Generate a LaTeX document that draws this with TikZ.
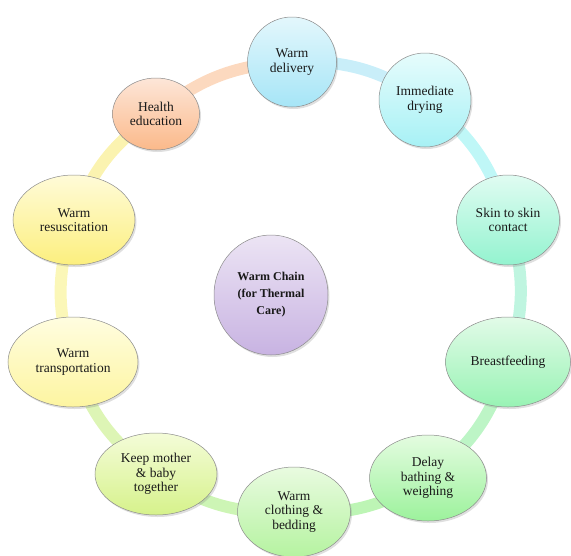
\documentclass[tikz,border=0pt]{standalone}
\usepackage{fontspec}
\setmainfont{Liberation Serif}
\usetikzlibrary{shapes.geometric,shadows,backgrounds}
\definecolor{dT}{HTML}{E3F7FC}\definecolor{dB}{HTML}{A6E5F7}
\definecolor{yT}{HTML}{E6FCFC}\definecolor{yB}{HTML}{A7F1F5}
\definecolor{sT}{HTML}{E0FCF2}\definecolor{sB}{HTML}{93F3CF}
\definecolor{bT}{HTML}{E2FBE8}\definecolor{bB}{HTML}{98F3B4}
\definecolor{lT}{HTML}{E4FCE0}\definecolor{lB}{HTML}{9CF29C}
\definecolor{cT}{HTML}{E9FBE0}\definecolor{cB}{HTML}{B5F3A0}
\definecolor{kT}{HTML}{F4FCD8}\definecolor{kB}{HTML}{D6F28B}
\definecolor{tT}{HTML}{FFFDE0}\definecolor{tB}{HTML}{FDF5A0}
\definecolor{rT}{HTML}{FFFBD8}\definecolor{rB}{HTML}{FCEF7E}
\definecolor{hT}{HTML}{FDE6D8}\definecolor{hB}{HTML}{FBB98A}
\definecolor{mT}{HTML}{ECE4F4}\definecolor{mB}{HTML}{C8B3E2}
\definecolor{r1}{HTML}{C9EEF9}
\definecolor{r2}{HTML}{BFF7F7}
\definecolor{r3}{HTML}{BFF5E0}
\definecolor{r4}{HTML}{BDF5C6}
\definecolor{r5}{HTML}{BDF5B5}
\definecolor{r6}{HTML}{CDF5B5}
\definecolor{r7}{HTML}{DDF5B5}
\definecolor{r8}{HTML}{FBF7B8}
\definecolor{r9}{HTML}{FBF3B0}
\definecolor{r10}{HTML}{FCD9BF}
\begin{document}
\begin{tikzpicture}[x=1pt,y=-1pt,
  bub/.style={ellipse, draw=black!45, line width=0.5pt, inner sep=0pt,
    align=center, font=\fontsize{13.5}{14.5}\selectfont, text=black!90,
    drop shadow={shadow xshift=1.5pt, shadow yshift=-2pt, opacity=0.25}},
  ring/.style={line width=12pt, draw=#1}]
\useasboundingbox (0,0) rectangle (571,555);
\node[bub, minimum width=89pt, minimum height=90pt, top color=dT, bottom color=dB] (deliv) at (292,62) {Warm\\delivery};
\node[bub, minimum width=92pt, minimum height=94pt, top color=yT, bottom color=yB] (dry) at (425,100) {Immediate\\drying};
\node[bub, minimum width=103pt, minimum height=90pt, top color=sT, bottom color=sB] (skin) at (508,220) {Skin to skin\\contact};
\node[bub, minimum width=125pt, minimum height=90pt, top color=bT, bottom color=bB] (breast) at (508,362) {Breastfeeding};
\node[bub, minimum width=117pt, minimum height=86pt, top color=lT, bottom color=lB] (delay) at (428,478) {Delay\\bathing \&\\weighing};
\node[bub, minimum width=113pt, minimum height=90pt, top color=cT, bottom color=cB] (cloth) at (294,512) {Warm\\clothing \&\\bedding};
\node[bub, minimum width=122pt, minimum height=82pt, top color=kT, bottom color=kB] (keep) at (156,474) {Keep mother\\\& baby\\together};
\node[bub, minimum width=130pt, minimum height=90pt, top color=tT, bottom color=tB] (trans) at (73,362) {Warm\\transportation};
\node[bub, minimum width=122pt, minimum height=90pt, top color=rT, bottom color=rB] (resus) at (74,220) {Warm\\resuscitation};
\node[bub, minimum width=87pt, minimum height=72pt, top color=hT, bottom color=hB] (health) at (156,114) {Health\\education};
\node[bub, minimum width=114pt, minimum height=120pt, top color=mT, bottom color=mB,
  font=\fontsize{12}{17}\selectfont\bfseries] (mid) at (271,295) {Warm Chain\\(for Thermal\\Care)};
\begin{scope}[on background layer]
\draw[ring=r1] (deliv.center) to[bend left=18] (dry.center);
\draw[ring=r2] (dry.center) to[bend left=18] (skin.center);
\draw[ring=r3] (skin.center) to[bend left=18] (breast.center);
\draw[ring=r4] (breast.center) to[bend left=18] (delay.center);
\draw[ring=r5] (delay.center) to[bend left=18] (cloth.center);
\draw[ring=r6] (cloth.center) to[bend left=18] (keep.center);
\draw[ring=r7] (keep.center) to[bend left=18] (trans.center);
\draw[ring=r8] (trans.center) to[bend left=18] (resus.center);
\draw[ring=r9] (resus.center) to[bend left=18] (health.center);
\draw[ring=r10] (health.center) to[bend left=18] (deliv.center);
\end{scope}
\end{tikzpicture}
\end{document}
